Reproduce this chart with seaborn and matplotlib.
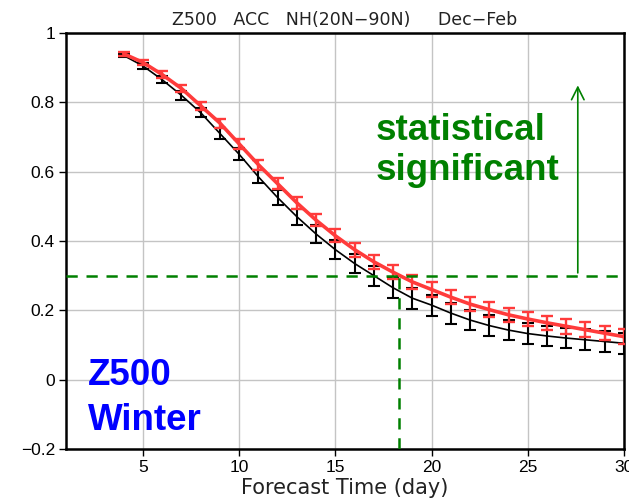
import numpy as np
import pandas as pd
import matplotlib
matplotlib.use("Agg")
import matplotlib.pyplot as plt
import seaborn as sns

days = list(range(4, 31))
black_acc = [0.935, 0.905, 0.865, 0.820, 0.770, 0.710, 0.650, 0.585, 0.525, 0.470,
             0.420, 0.375, 0.335, 0.300, 0.265, 0.235, 0.215, 0.192, 0.172, 0.156,
             0.143, 0.133, 0.126, 0.120, 0.115, 0.110, 0.105]
black_err = [0.005, 0.008, 0.010, 0.012, 0.013, 0.015, 0.017, 0.019, 0.021, 0.023,
             0.025, 0.027, 0.028, 0.029, 0.030, 0.030, 0.030, 0.030, 0.030, 0.030,
             0.030, 0.030, 0.030, 0.030, 0.030, 0.030, 0.030]
red_acc = [0.940, 0.915, 0.880, 0.840, 0.790, 0.740, 0.680, 0.620, 0.565, 0.510,
           0.460, 0.415, 0.375, 0.340, 0.310, 0.282, 0.260, 0.238, 0.218, 0.202,
           0.187, 0.175, 0.164, 0.154, 0.144, 0.134, 0.124]
red_err = [0.005, 0.007, 0.009, 0.010, 0.012, 0.013, 0.014, 0.015, 0.016, 0.017,
           0.018, 0.019, 0.020, 0.020, 0.021, 0.021, 0.021, 0.021, 0.021, 0.021,
           0.021, 0.021, 0.021, 0.021, 0.021, 0.021, 0.021]

x_ticks = [5, 10, 15, 20, 25, 30]
y_ticks = [-0.2, 0, 0.2, 0.4, 0.6, 0.8, 1.0]
y_ticklabels = ["\u22120.2", "0", "0.2", "0.4", "0.6", "0.8", "1"]
threshold = 0.3
cross_day = 18.33
arrow_day = 27.6
arrow_top = 0.857

sns.set_style("whitegrid")
plt.rcParams['font.family'] = ['Liberation Sans', 'DejaVu Sans']

df = pd.DataFrame({"day": days * 2,
                   "acc": black_acc + red_acc,
                   "model": ["black"] * len(days) + ["red"] * len(days)})

fig = plt.figure(figsize=(6.29, 5.0), dpi=100)
ax = fig.add_axes([0.105, 0.102, 0.887, 0.832])

red_c = "#ff3b3b"
green_c = "#008000"

ax.errorbar(days, black_acc, yerr=black_err, fmt="none", ecolor="black",
            elinewidth=1.5, capsize=4.3, capthick=1.5, zorder=3)
sns.lineplot(data=df[df.model == "black"], x="day", y="acc", color="black",
             linewidth=1.2, ax=ax, zorder=4)
ax.errorbar(days, red_acc, yerr=red_err, fmt="none", ecolor=red_c,
            elinewidth=1.7, capsize=4.6, capthick=1.7, zorder=5)
sns.lineplot(data=df[df.model == "red"], x="day", y="acc", color=red_c,
             linewidth=2.6, ax=ax, zorder=6)

ax.set_xlim(1, 30)
ax.set_ylim(-0.2, 1.0)
ax.set_xticks(x_ticks)
ax.set_yticks(y_ticks)
ax.set_yticklabels(y_ticklabels)
ax.grid(True, color="#c4c4c4", linewidth=1.0)
ax.set_axisbelow(True)
for s in ax.spines.values():
    s.set_color("black")
    s.set_linewidth(1.8)
ax.tick_params(axis="both", direction="out", length=5, width=1.0, color="black",
               labelsize=12.5, pad=3, labelcolor="black")
ax.tick_params(left=True, bottom=True)

# threshold lines
ax.axhline(threshold, color=green_c, linestyle=(0, (4.5, 3.5)), linewidth=1.8, zorder=7)
ax.plot([cross_day, cross_day], [-0.2, threshold], color=green_c,
        linestyle=(0, (4.5, 3.5)), linewidth=1.8, zorder=7)
ax.annotate("", xy=(arrow_day, arrow_top), xytext=(arrow_day, threshold),
            arrowprops=dict(arrowstyle="->,head_length=0.9,head_width=0.45",
                            color=green_c, linewidth=1.2), zorder=7)

ax.text(17.08, 0.692, "statistical", color=green_c, fontsize=26.5,
        fontweight="bold", ha="left", va="baseline", zorder=8)
ax.text(17.08, 0.577, "significant", color=green_c, fontsize=26.5,
        fontweight="bold", ha="left", va="baseline", zorder=8)
ax.text(2.14, -0.014, "Z500", color="#0000ff", fontsize=26.5,
        fontweight="bold", ha="left", va="baseline", zorder=8)
ax.text(2.14, -0.144, "Winter", color="#0000ff", fontsize=26.5,
        fontweight="bold", ha="left", va="baseline", zorder=8)

ax.set_title("Z500   ACC   NH(20N\u221290N)     Dec\u2212Feb", fontsize=12.5,
             color="#222222", pad=6, family="DejaVu Sans")
ax.set_xlabel("Forecast Time (day)", fontsize=15, color="#222222",
              labelpad=2, family="DejaVu Sans")
ax.set_ylabel("")

fig.savefig("out.png", dpi=100)
